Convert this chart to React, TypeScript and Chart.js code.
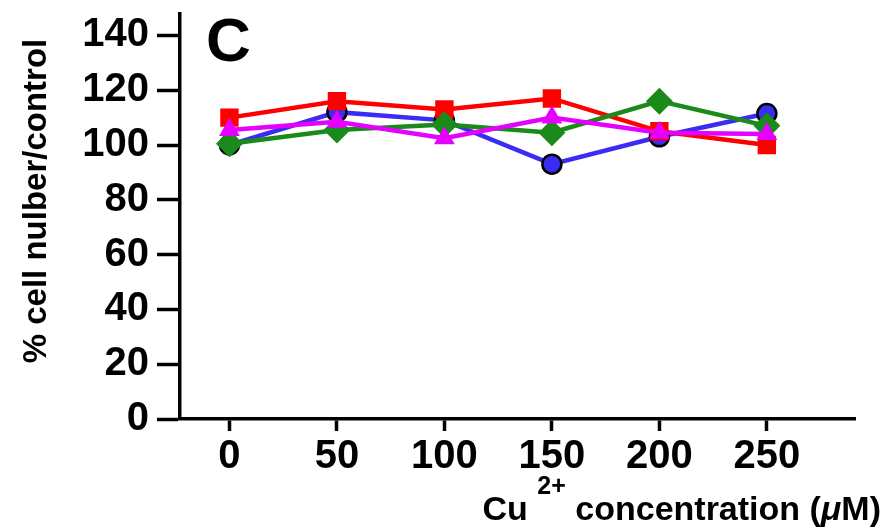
import React, { useEffect, useRef } from "react";
import { Chart, registerables } from "chart.js";

Chart.register(...registerables);

// ---- data ----
const concentrations = [0, 50, 100, 150, 200, 250];
const xTickValues = [0, 50, 100, 150, 200, 250];
const yTickValues = [0, 20, 40, 60, 80, 100, 120, 140];
const seriesBlue = [100, 112, 109, 93, 103, 111.5];
const seriesRed = [110, 116, 113, 117, 105, 100];
const seriesGreen = [100.5, 105.5, 107.5, 104.5, 116, 107];
const seriesMagenta = [105.5, 108.5, 102.5, 110, 104.5, 104];
const panelLabel = "C";
const yTitle = "% cell nulber/control";
const xTitleMain = "Cu";
const xTitleSup = "2+";
const xTitleRest = " concentration (";
const xTitleMu = "μ";
const xTitleEnd = "M)";

const FONT = '"Liberation Sans", Arial, Helvetica, sans-serif';

const textPlugin = {
  id: "customTexts",
  afterDraw(chart: any) {
    const ctx = chart.ctx as CanvasRenderingContext2D;
    ctx.save();
    ctx.fillStyle = "#000";
    // panel label
    ctx.font = `bold 62px ${FONT}`;
    ctx.textAlign = "left";
    ctx.textBaseline = "alphabetic";
    ctx.fillText(panelLabel, 206, 61);

    // y title
    ctx.save();
    ctx.translate(37, 201);
    ctx.rotate(-Math.PI / 2);
    ctx.font = `bold 33px ${FONT}`;
    ctx.textAlign = "center";
    ctx.textBaseline = "middle";
    ctx.fillText(yTitle, 0, 0);
    ctx.restore();

    // x title (right aligned)
    const big = `bold 34px ${FONT}`;
    const sup = `bold 25px ${FONT}`;
    const ital = `italic bold 34px ${FONT}`;
    ctx.textAlign = "left";
    const pieces: [string, string, number][] = [
      [xTitleMain, big, 0],
      [" ", big, 0],
      [xTitleSup, sup, -26],
      [xTitleRest, big, 0],
      [xTitleMu, ital, 0],
      [xTitleEnd, big, 0],
    ];
    let total = 0;
    const widths = pieces.map(([t, f]) => {
      ctx.font = f;
      const w = ctx.measureText(t).width;
      total += w;
      return w;
    });
    let x = 881 - total;
    const baseline = 520;
    pieces.forEach(([t, f, dy], i) => {
      ctx.font = f;
      ctx.fillText(t, x, baseline + dy);
      x += widths[i];
    });
    ctx.restore();
  },
};

export default function App() {
  const ref = useRef<HTMLCanvasElement | null>(null);

  useEffect(() => {
    if (!ref.current) return;
    const mk = (vals: number[]) => concentrations.map((c, i) => ({ x: c, y: vals[i] }));
    const chart = new Chart(ref.current, {
      type: "line",
      data: {
        datasets: [
          {
            label: "blue",
            data: mk(seriesBlue),
            borderColor: "#3a2cf2",
            backgroundColor: "#3a2cf2",
            pointBorderColor: "#000",
            pointBorderWidth: 2.5,
            pointRadius: 9.5,
            pointStyle: "circle",
            borderWidth: 4.5,
            order: 3,
          },
          {
            label: "red",
            data: mk(seriesRed),
            borderColor: "#ff0000",
            backgroundColor: "#ff0000",
            pointBorderWidth: 0,
            pointRadius: 13,
            pointStyle: "rect",
            borderWidth: 4.5,
            order: 2,
          },
          {
            label: "green",
            data: mk(seriesGreen),
            borderColor: "#1a8a1a",
            backgroundColor: "#1a8a1a",
            pointBorderWidth: 0,
            pointRadius: 13.5,
            pointStyle: "rectRot",
            borderWidth: 4.5,
            order: 1,
          },
          {
            label: "magenta",
            data: mk(seriesMagenta),
            borderColor: "#e600ff",
            backgroundColor: "#e600ff",
            pointBorderWidth: 0,
            pointRadius: 12,
            pointStyle: "triangle",
            borderWidth: 4.5,
            order: 0,
          },
        ],
      },
      options: {
        responsive: false,
        animation: false,
        events: [],
        layout: { padding: { top: 13, right: 32, left: 0, bottom: 0 } },
        plugins: { legend: { display: false }, tooltip: { enabled: false } },
        scales: {
          x: {
            type: "linear",
            min: -23,
            max: 291,
            afterBuildTicks: (s: any) => {
              s.ticks = xTickValues.map((v) => ({ value: v }));
            },
            afterFit: (s: any) => {
              s.height = 111;
              s.paddingLeft = 0;
              s.paddingRight = 0;
            },
            border: { display: true, color: "#000", width: 3.5 },
            grid: {
              display: true,
              drawOnChartArea: false,
              drawTicks: true,
              tickLength: 12,
              tickColor: "#000",
              tickWidth: 3.5,
              color: "#000",
            },
            ticks: {
              color: "#000",
              font: { family: FONT, size: 40, weight: "bold" },
              padding: 2,
              maxRotation: 0,
              autoSkip: false,
            },
          },
          y: {
            type: "linear",
            min: 0,
            max: 148,
            afterBuildTicks: (s: any) => {
              s.ticks = yTickValues.map((v) => ({ value: v }));
            },
            afterFit: (s: any) => {
              s.width = 180;
              s.paddingTop = 0;
              s.paddingBottom = 0;
            },
            border: { display: true, color: "#000", width: 3.5 },
            grid: {
              display: true,
              drawOnChartArea: false,
              drawTicks: true,
              tickLength: 23,
              tickColor: "#000",
              tickWidth: 3.5,
              color: "#000",
            },
            ticks: {
              color: "#000",
              font: { family: FONT, size: 40, weight: "bold" },
              padding: 8,
              autoSkip: false,
            },
          },
        },
      },
      plugins: [textPlugin],
    } as any);
    return () => chart.destroy();
  }, []);

  return (
    <div style={{ position: "absolute", left: 0, top: 0, width: 887, height: 530, background: "#fff" }}>
      <canvas ref={ref} width={887} height={530} style={{ display: "block" }} />
    </div>
  );
}
